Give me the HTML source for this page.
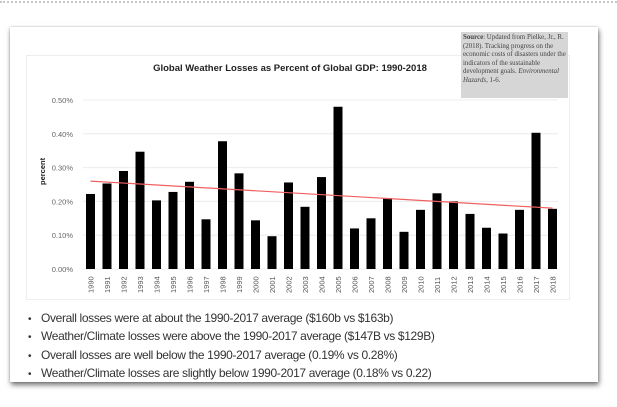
<!DOCTYPE html>
<html><head><meta charset="utf-8">
<style>
body{margin:0;width:617px;height:407px;background:#fff;position:relative;overflow:hidden;font-family:"Liberation Sans",sans-serif}
.dots{position:absolute;left:0;top:1px;width:617px;border-top:2px dotted #c8c8c8}
.card{position:absolute;left:10px;top:27px;width:588px;height:355px;background:#fff;box-shadow:1px 3px 5px rgba(0,0,0,.55),0 0 2px rgba(0,0,0,.2)}
.inner{position:absolute;left:26px;top:55px;width:542px;height:243px;border:1px solid #eee}
.src{position:absolute;left:461px;top:32px;width:103px;height:62px;background:#d6d6d6;padding:2px;font-family:"Liberation Serif",serif;font-size:6.9px;line-height:8.6px;color:#444;overflow:hidden}
ul{position:absolute;left:28px;top:310px;margin:0;padding:0;list-style:none;font-size:12px;color:#333;line-height:17.4px;letter-spacing:-0.35px;white-space:nowrap}
li:before{content:"•";margin-right:7px;font-size:10px;display:inline-block;width:6px}
</style></head><body>
<div class="dots"></div>
<div class="card"></div>
<div class="inner"></div>
<svg id="chart" width="617" height="407" style="position:absolute;left:0;top:0"></svg>
<div class="src"><b>Source</b>: Updated from Pielke, Jr., R. (2018). Tracking progress on the economic costs of disasters under the indicators of the sustainable development goals. <i>Environmental Hazards</i>, 1-6.</div>
<ul>
<li>Overall losses were at about the 1990-2017 average ($160b vs $163b)</li>
<li>Weather/Climate losses were above the 1990-2017 average ($147B vs $129B)</li>
<li>Overall losses are well below the 1990-2017 average (0.19% vs 0.28%)</li>
<li>Weather/Climate losses are slightly below 1990-2017 average (0.18% vs 0.22)</li>
</ul>
<script>
const years=[1990,1991,1992,1993,1994,1995,1996,1997,1998,1999,2000,2001,2002,2003,2004,2005,2006,2007,2008,2009,2010,2011,2012,2013,2014,2015,2016,2017,2018];
const values=[0.222,0.253,0.29,0.347,0.203,0.228,0.258,0.147,0.378,0.283,0.144,0.097,0.256,0.184,0.272,0.48,0.12,0.15,0.21,0.11,0.175,0.224,0.2,0.163,0.122,0.105,0.175,0.403,0.178];
const yTicks=[0,0.1,0.2,0.3,0.4,0.5];
const tickLabels=["0.00%","0.10%","0.20%","0.30%","0.40%","0.50%"];
const trend=[0.26,0.18];
const NS="http://www.w3.org/2000/svg";
const svg=document.getElementById('chart');
const x=i=>90.5+i*16.5;
const y=v=>269-v*338;
function mk(t,a){const e=document.createElementNS(NS,t);for(const k in a)e.setAttribute(k,a[k]);svg.appendChild(e);return e;}
yTicks.forEach((v,i)=>{
 const g=mk('line',{x1:83,x2:558,y1:y(v),y2:y(v),stroke:'#ececec','stroke-width':1});
 
 
 const t=mk('text',{x:73,y:y(v)+3,'text-anchor':'end','font-size':7.5,fill:'#666'});
 t.textContent=tickLabels[i];
 
 
});
values.forEach((v,i)=>{
 const r=mk('rect',{x:x(i)-4.5,y:y(v),width:9,height:y(0)-y(v),fill:'#000'});
 
 
 const t=mk('text',{transform:`translate(${x(i)+3},${y(0)+24}) rotate(-90)`,'font-size':7.5,fill:'#555'});
 t.textContent=years[i];
 
 
});
const tl=mk('line',{x1:x(0),x2:x(years.length-1),y1:y(trend[0]),y2:y(trend[1]),stroke:'#f06060','stroke-width':1.2});


const yt=mk('text',{transform:'translate(45,185) rotate(-90)','font-size':7.5,'font-weight':'bold',fill:'#222'});
yt.textContent='percent';


const ti=mk('text',{x:290,y:71,'text-anchor':'middle','font-size':9.5,'font-weight':'bold',fill:'#222'});
ti.textContent='Global Weather Losses as Percent of Global GDP: 1990-2018';


</script>
</body></html>
